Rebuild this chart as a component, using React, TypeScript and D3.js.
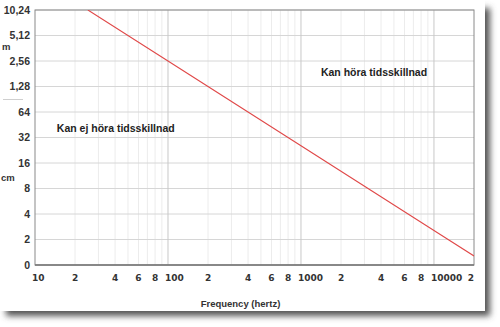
import React from "react";
import * as d3 from "d3";

// Data
const freqHz = [25, 100, 1000, 10000, 20000];
const distanceCm = [1024, 256, 25.6, 2.56, 1.28];

const yTickValues = [1, 2, 4, 8, 16, 32, 64, 128, 256, 512, 1024];
const yTickLabels = ["0", "2", "4", "8", "16", "32", "64", "1,28", "2,56", "5,12", "10,24"];

const xTickValues = [10, 20, 40, 60, 80, 100, 200, 400, 600, 800, 1000, 2000, 4000, 6000, 8000, 10000, 20000];
const xTickLabels = ["10", "2", "4", "6", "8", "100", "2", "4", "6", "8", "1000", "2", "4", "6", "8", "10000", "2"];
const xDecadeLabels = [10, 100, 1000, 10000];
const xMajorGrid = [100, 1000, 10000];

const annotations = [
  { text: "Kan ej höra tidsskillnad", f: 14.6, cm: 41 },
  { text: "Kan höra tidsskillnad", f: 1413, cm: 190 },
];

export default function App() {
  const W = 500, H = 327;
  const left = 35, right = 474, top = 10, bottom = 265;
  const x = d3.scaleLog().domain([10, 20000]).range([left, right]);
  const y = d3.scaleLog().base(2).domain([1, 1024]).range([bottom, top]);

  const minorGrid: number[] = [];
  for (const dec of [10, 100, 1000, 10000]) {
    for (let k = 2; k <= 9; k++) {
      const v = dec * k;
      if (v < 20000) minorGrid.push(v);
    }
  }

  const pts = freqHz.map((f, i) => [f, distanceCm[i]] as [number, number]);
  const line = d3.line<[number, number]>().x(d => x(d[0])).y(d => y(d[1]));

  return (
    <svg width={W} height={H} style={{ position: "absolute", left: 0, top: 0 }}>
      <defs>
        <filter id="sh" x="-10%" y="-10%" width="130%" height="130%">
          <feGaussianBlur stdDeviation="3" />
        </filter>
        <clipPath id="clip">
          <rect x={left} y={top} width={right - left} height={bottom - top} />
        </clipPath>
      </defs>
      <rect x={0} y={0} width={W} height={H} fill="#fff" />
      <rect x={6} y={8} width={484} height={308} fill="#555" filter="url(#sh)" />
      <rect x={0} y={0} width={485} height={311} fill="#fff" />

      {minorGrid.map(v => (
        <line key={"m" + v} x1={x(v)} x2={x(v)} y1={top} y2={bottom} stroke="#ececec" strokeWidth={1} />
      ))}
      {yTickValues.map(v => (
        <line key={"h" + v} x1={left} x2={right} y1={y(v)} y2={y(v)} stroke="#d6d6d6" strokeWidth={1} />
      ))}
      {xMajorGrid.map(v => (
        <line key={"M" + v} x1={x(v)} x2={x(v)} y1={top} y2={bottom} stroke="#c8c8c8" strokeWidth={1} />
      ))}

      <rect x={left} y={top} width={right - left} height={bottom - top} fill="none" stroke="#8a8a8a" strokeWidth={1} />
      <line x1={left} x2={right} y1={bottom} y2={bottom} stroke="#777" strokeWidth={1.5} />

      <path d={line(pts) || ""} fill="none" stroke="#e04848" strokeWidth={1.1} clipPath="url(#clip)" />

      {yTickValues.map((v, i) => (
        <text key={"yl" + v} x={30} y={y(v)} dy="0.35em" textAnchor="end"
          fontFamily="'Liberation Sans', Arial, sans-serif" fontWeight="bold" fontSize={10.5} fill="#333">
          {yTickLabels[i]}
        </text>
      ))}
      <text x={2} y={50} fontFamily="'Liberation Sans', Arial, sans-serif" fontWeight="bold" fontSize={9.5} fill="#333">m</text>
      <text x={1} y={181} fontFamily="'Liberation Sans', Arial, sans-serif" fontWeight="bold" fontSize={9.5} fill="#333">cm</text>
      <line x1={3} x2={23} y1={99.5} y2={99.5} stroke="#cfcfcf" strokeWidth={1} />

      {xTickValues.map((v, i) => {
        const isDecade = xDecadeLabels.includes(v);
        const isLast = i === xTickValues.length - 1;
        return (
          <text key={"xl" + v} x={isDecade ? x(v) - 3 : isLast ? x(v) - 3 : x(v)} y={281}
            textAnchor={isDecade ? "start" : "middle"}
            fontFamily="'DejaVu Sans', Verdana, sans-serif" fontWeight="bold" fontSize={9} fill="#333">
            {xTickLabels[i]}
          </text>
        );
      })}
      <text x={240.5} y={307} textAnchor="middle"
        fontFamily="'Liberation Sans', Arial, sans-serif" fontWeight="bold" fontSize={9.5} fill="#333">
        Frequency (hertz)
      </text>

      {annotations.map(a => (
        <text key={a.text} x={x(a.f)} y={y(a.cm)} dy="0.35em"
          fontFamily="'Liberation Sans', Arial, sans-serif" fontWeight="bold" fontSize={10.5} fill="#222">
          {a.text}
        </text>
      ))}
    </svg>
  );
}
